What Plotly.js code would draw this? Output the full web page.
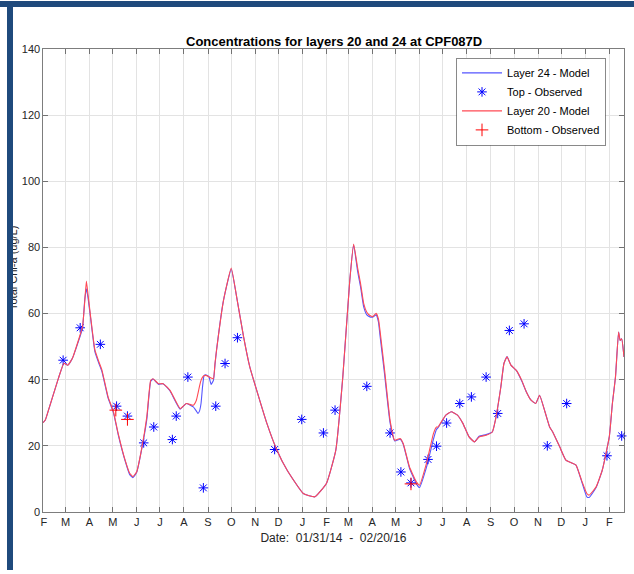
<!DOCTYPE html>
<html>
<head>
<meta charset="utf-8">
<script src="https://cdn.plot.ly/plotly-3.0.1.min.js"></script>
<style>
  html, body { margin: 0; padding: 0; background: #ffffff; }
  #wrap { position: relative; width: 634px; height: 574px; }
  #chart { position: absolute; left: 0; top: 0; width: 634px; height: 574px; }
  .bar { position: absolute; background: #1f4a7c; z-index: 10; }
</style>
</head>
<body>
<div id="wrap">
  <div id="chart"></div>
  <div class="bar" style="left:0;top:1px;width:634px;height:6px;"></div>
  <div class="bar" style="left:7px;top:1px;width:6px;height:569px;"></div>
</div>
<script>
// ---- data ----
const modelDates = [
  '2014-01-31','2014-02-03','2014-02-08','2014-02-14','2014-02-20','2014-02-27','2014-03-04','2014-03-10',
  '2014-03-19','2014-03-23','2014-03-26','2014-03-28','2014-03-30','2014-04-02','2014-04-08','2014-04-13',
  '2014-04-17','2014-04-25','2014-05-02','2014-05-08','2014-05-17','2014-05-23','2014-05-27','2014-06-01',
  '2014-06-07','2014-06-14','2014-06-19','2014-06-22','2014-06-29','2014-07-05','2014-07-14','2014-07-27',
  '2014-08-04','2014-08-13','2014-08-17','2014-08-19','2014-08-21','2014-08-23','2014-08-25','2014-08-27',
  '2014-08-29','2014-09-02','2014-09-05','2014-09-08','2014-09-10','2014-09-12','2014-09-21','2014-10-01',
  '2014-10-08','2014-10-17','2014-10-25','2014-10-30','2014-11-16','2014-11-29','2014-12-12','2015-01-02',
  '2015-01-17','2015-02-01','2015-02-13','2015-02-22','2015-03-03','2015-03-08','2015-03-13','2015-03-17',
  '2015-03-21','2015-03-25','2015-03-29','2015-04-02','2015-04-06','2015-04-09','2015-04-11','2015-04-17',
  '2015-04-24','2015-04-30','2015-05-07','2015-05-11','2015-05-19','2015-05-28','2015-06-01','2015-06-10',
  '2015-06-19','2015-06-23','2015-06-25','2015-06-29','2015-07-05','2015-07-12','2015-07-20','2015-07-27',
  '2015-08-04','2015-08-11','2015-08-17','2015-08-26','2015-09-03','2015-09-07','2015-09-14','2015-09-18',
  '2015-09-22','2015-09-27','2015-10-04','2015-10-11','2015-10-17','2015-10-23','2015-10-29','2015-11-03',
  '2015-11-10','2015-11-16','2015-11-20','2015-11-29','2015-12-07','2015-12-20','2015-12-27','2016-01-03',
  '2016-01-06','2016-01-15','2016-01-23','2016-02-01','2016-02-05','2016-02-09','2016-02-13','2016-02-15',
  '2016-02-17','2016-02-20'
];
const layer20Model = [
  27, 27.8, 31.5, 36, 40.5, 45, 44.4, 46.5,
  52.9, 56, 64, 69.8, 66, 60, 49, 45.5,
  43, 34.8, 30.3, 23.8, 15.7, 11.7, 10.7, 12.2,
  18.7, 28.8, 39.8, 40.3, 38.8, 38.8, 36.8, 31.3,
  32.8, 32.3, 33.8, 35.8, 38, 39.8, 40.8, 41.2,
  41.3, 40.9, 40.5, 40.3, 44.9, 48.9, 64, 73.8,
  65, 52.9, 43.8, 39.8, 26.8, 18.7, 12.7, 5.6,
  4.6, 8.7, 18.7, 40.8, 70, 81, 74, 69,
  63, 60.4, 59.4, 59.1, 60.1, 58.4, 54.9, 42.8,
  27.8, 21.7, 22.2, 20.7, 13.7, 9.1, 8.1, 14.7,
  23.7, 25.7, 25.7, 27.2, 29.3, 30.3, 29.3, 26.8,
  22.7, 21.2, 22.7, 23.2, 24.2, 27.8, 37.8, 44.9,
  46.9, 44.4, 42.8, 39.8, 36.3, 33.8, 32.8, 35.3,
  30.3, 25.7, 24.2, 19.7, 15.7, 14.2, 9.7, 5.6,
  5.1, 7.6, 12.7, 22.7, 32.8, 40.8, 54.4, 51.9,
  52.4, 46.9
];
const layer24Model = [
  27, 27.8, 31.5, 36, 40.5, 45, 44.4, 46.5,
  52.5, 55.5, 64.5, 67.5, 65, 59.5, 48.5, 45,
  42.5, 34.5, 30, 23.5, 15.5, 11.3, 10.4, 12,
  18.5, 28, 39.5, 40.2, 38.6, 38.8, 36.6, 31.1,
  32.8, 31.8, 30.5, 29.8, 30.5, 32.8, 38, 41.3,
  41.5, 41, 38.6, 39.8, 44.5, 48.9, 64, 73.5,
  65, 52.9, 43.8, 39.8, 26.8, 18.7, 12.7, 5.6,
  4.6, 8.7, 18.7, 40.8, 70, 80.8, 73, 68,
  62, 59.6, 59, 59, 59.6, 57.5, 53.5, 41.5,
  27, 21.5, 22, 20.5, 13.3, 8.5, 7.4, 13.5,
  22, 25, 25.5, 27, 29.3, 30.3, 29.3, 26.8,
  22.7, 21.2, 22.9, 23.4, 24.2, 27.8, 37.8, 44.9,
  47, 44.4, 42.8, 39.6, 36.3, 33.8, 32.8, 35.3,
  30.3, 25.7, 24.2, 19.7, 15.7, 14.2, 9.5, 4.6,
  4.4, 7.4, 12.7, 22.7, 32.8, 40.8, 54.4, 51.9,
  52.4, 46.9
];
const topObsDates = [
  '2014-02-26','2014-03-20','2014-04-15','2014-05-06','2014-05-20','2014-06-10','2014-06-23','2014-07-17',
  '2014-07-22','2014-08-06','2014-08-26','2014-09-11','2014-09-23','2014-10-09','2014-11-26','2014-12-31',
  '2015-01-28','2015-02-12','2015-03-25','2015-04-24','2015-05-08','2015-05-21','2015-06-12','2015-06-23',
  '2015-07-06','2015-07-23','2015-08-07','2015-08-26','2015-09-10','2015-09-25','2015-10-14','2015-11-13',
  '2015-12-08','2016-01-29','2016-02-17'
];
const topObsValues = [
  45.9, 55.7, 50.7, 32, 29, 20.9, 25.7, 21.9,
  29, 40.8, 7.3, 32, 44.9, 52.7, 18.9, 28,
  23.9, 30.8, 38, 23.9, 12.1, 8.8, 15.9, 19.9,
  26.9, 32.8, 34.8, 40.8, 29.8, 54.9, 56.9, 20,
  32.8, 17, 23
];
const bottomObsDates = ['2014-05-05','2014-05-20','2015-05-21'];
const bottomObsValues = [30.8, 28, 8.5];

const tickDates = [
  '2014-02-01','2014-03-01','2014-04-01','2014-05-01','2014-06-01','2014-07-01','2014-08-01','2014-09-01',
  '2014-10-01','2014-11-01','2014-12-01','2015-01-01','2015-02-01','2015-03-01','2015-04-01','2015-05-01',
  '2015-06-01','2015-07-01','2015-08-01','2015-09-01','2015-10-01','2015-11-01','2015-12-01','2016-01-01',
  '2016-02-01'
];
const tickLetters = ['F','M','A','M','J','J','A','S','O','N','D','J','F','M','A','M','J','J','A','S','O','N','D','J','F'];
const yTicks = [0, 20, 40, 60, 80, 100, 120, 140];

// ---- chart ----
const FONT = 'Liberation Sans, Arial, Helvetica, sans-serif';
const AX = '#262626';

const traces = [
  { type: 'scatter', mode: 'lines', name: 'Layer 24 - Model', x: modelDates, y: layer24Model,
    line: { color: '#5555ff', width: 1.1, shape: 'spline', smoothing: 0.4 } },
  { type: 'scatter', mode: 'markers', name: 'Top - Observed', x: topObsDates, y: topObsValues,
    cliponaxis: false,
    marker: { symbol: 'asterisk-open', size: 8, color: '#0000ff', line: { color: '#0000ff', width: 1 } } },
  { type: 'scatter', mode: 'lines', name: 'Layer 20 - Model', x: modelDates, y: layer20Model,
    line: { color: '#ff4a55', width: 1.1, shape: 'spline', smoothing: 0.4 } },
  { type: 'scatter', mode: 'markers', name: 'Bottom - Observed', x: bottomObsDates, y: bottomObsValues,
    marker: { symbol: 'cross-thin-open', size: 9, color: '#ff0000', line: { color: '#ff0000', width: 1 } } }
];

const layout = {
  width: 634, height: 574,
  margin: { l: 43, r: 10, t: 49, b: 62, pad: 0 },
  paper_bgcolor: '#ffffff', plot_bgcolor: '#ffffff',
  font: { family: FONT, size: 11, color: AX },
  showlegend: true,
  title: {
    text: '<b>Concentrations for layers 20 and 24 at CPF087D</b>',
    font: { family: FONT, size: 13, color: '#000000' },
    x: 0.527, xref: 'container', xanchor: 'center',
    y: 1 - 41 / 574, yref: 'container', yanchor: 'middle'
  },
  xaxis: {
    type: 'date',
    range: ['2014-01-31', '2016-02-20'],
    tickmode: 'array', tickvals: tickDates, ticktext: tickLetters,
    ticks: 'inside', ticklen: 5, tickcolor: AX, tickwidth: 0.6,
    showline: true, linecolor: AX, linewidth: 0.6, mirror: 'ticks',
    showgrid: true, gridcolor: '#e3e3e3', gridwidth: 1,
    zeroline: false,
    tickfont: { family: FONT, size: 11, color: AX },
    title: { text: 'Date:  01/31/14  -  02/20/16', font: { family: FONT, size: 12, color: AX }, standoff: 6 }
  },
  yaxis: {
    range: [0, 140],
    tickmode: 'array', tickvals: yTicks,
    ticks: 'inside', ticklen: 5, tickcolor: AX, tickwidth: 0.6,
    showline: true, linecolor: AX, linewidth: 0.6, mirror: 'ticks',
    showgrid: true, gridcolor: '#e3e3e3', gridwidth: 1,
    zeroline: false,
    tickfont: { family: FONT, size: 11, color: AX }
  },
  legend: {
    x: 0.968, xanchor: 'right', y: 0.981, yanchor: 'top',
    bgcolor: '#ffffff', bordercolor: '#3a3a3a', borderwidth: 0.6,
    font: { family: FONT, size: 11, color: '#000000' },
    tracegroupgap: 0, itemwidth: 40
  },
  annotations: [
    { text: 'Total Chl-a (ug/L)', textangle: -90, showarrow: false,
      xref: 'paper', yref: 'paper', x: (13 - 43) / 581, y: (512 - 268) / 463,
      xanchor: 'center', yanchor: 'middle',
      font: { family: FONT, size: 11, color: AX } }
  ]
};

Plotly.newPlot('chart', traces, layout, { displayModeBar: false, staticPlot: true });
</script>
</body>
</html>
